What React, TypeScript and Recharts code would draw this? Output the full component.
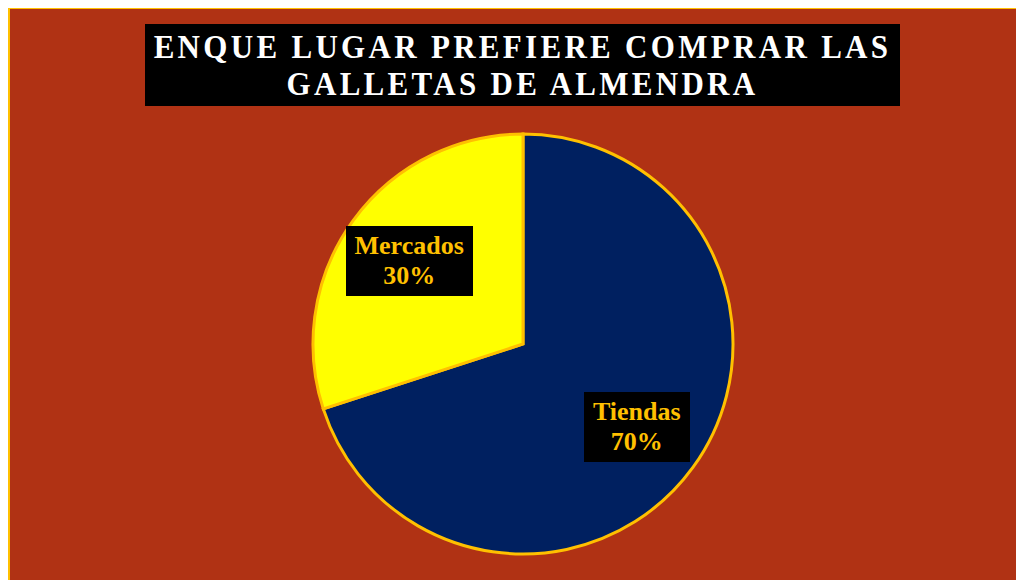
import { PieChart, Pie, Cell } from 'recharts';

const categories = ['Tiendas', 'Mercados'];
const shares = [70, 30];
const sliceColors = ['#002060', '#FFFF00'];

const titleLines = ['ENQUE LUGAR PREFIERE COMPRAR LAS', 'GALLETAS DE ALMENDRA'];

const data = categories.map((name, i) => ({ name, value: shares[i] }));

const serif = '"Liberation Serif", "Times New Roman", serif';

function SliceLabel(props: any) {
  const { cx, cy, midAngle, outerRadius, name, value } = props;
  const RAD = Math.PI / 180;
  const r = outerRadius * 0.67;
  const x = cx + r * Math.cos(-midAngle * RAD);
  const y = cy + r * Math.sin(-midAngle * RAD);
  return (
    <foreignObject x={x - 100} y={y - 35} width={200} height={70}>
      <div style={{ width: 200, height: 70, display: 'flex', justifyContent: 'center' }}>
        <div
          style={{
            background: '#000',
            color: '#FFC000',
            fontFamily: serif,
            fontWeight: 'bold',
            fontSize: 26,
            lineHeight: '30px',
            height: 70,
            padding: '5px 9px 0',
            boxSizing: 'border-box',
            textAlign: 'center',
          }}
        >
          {name}
          <br />
          {value}%
        </div>
      </div>
    </foreignObject>
  );
}

export default function App() {
  return (
    <div
      style={{
        position: 'relative',
        marginTop: -1,
        width: 1014,
        height: 572,
        borderTop: '2px solid #FFC000',
        borderLeft: '2px solid #FFC000',
        background: '#B03214',
        overflow: 'hidden',
      }}
    >
      <div
        style={{
          position: 'absolute',
          left: 135,
          top: 15,
          width: 755,
          height: 82,
          background: '#000',
          color: '#fff',
          fontFamily: serif,
          fontWeight: 'bold',
          fontSize: 31,
          letterSpacing: 3.3,
          lineHeight: '37px',
          textAlign: 'center',
          paddingTop: 4,
          boxSizing: 'border-box',
        }}
      >
        {titleLines.map((l) => (
          <div key={l} style={{ transform: 'scaleY(1.12)' }}>{l}</div>
        ))}
      </div>
      <PieChart width={1014} height={572} style={{ position: 'absolute', left: 0, top: 0 }}>
        <Pie
          data={data}
          dataKey="value"
          nameKey="name"
          cx={508}
          cy={330}
          outerRadius={210}
          startAngle={90}
          endAngle={-270}
          stroke="#FFC000"
          strokeWidth={3}
          label={SliceLabel}
          labelLine={false}
          isAnimationActive={false}
        >
          {data.map((d, i) => (
            <Cell key={d.name} fill={sliceColors[i]} />
          ))}
        </Pie>
      </PieChart>
    </div>
  );
}
